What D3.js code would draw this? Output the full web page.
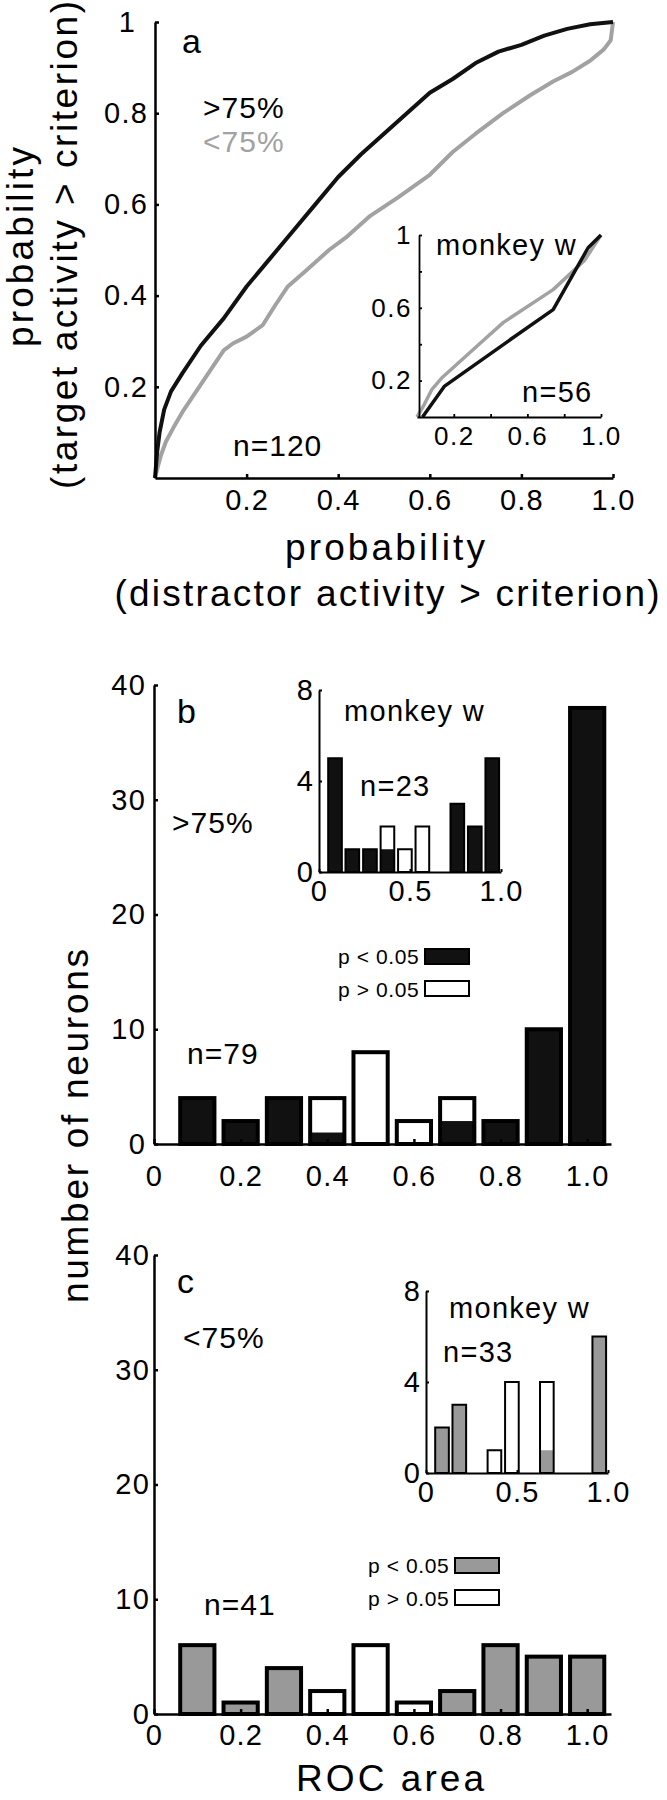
<!DOCTYPE html>
<html>
<head>
<meta charset="utf-8">
<script src="https://cdn.jsdelivr.net/npm/d3@7"></script>
<style>
body { margin: 0; background: #fff; }
</style>
</head>
<body>
<div id="vis"></div>
<script>
// panel a: pooled ROC curves (x = distractor prob, y = target prob)
var rocHiX = [0, 0.005, 0.01, 0.02, 0.035, 0.06, 0.1, 0.15, 0.2, 0.25, 0.3, 0.35, 0.4, 0.45, 0.5, 0.55, 0.6, 0.65, 0.7, 0.75, 0.8, 0.85, 0.9, 0.95, 1.0];
var rocHiY = [0, 0.06, 0.1, 0.15, 0.19, 0.23, 0.29, 0.35, 0.42, 0.48, 0.54, 0.6, 0.66, 0.71, 0.755, 0.8, 0.845, 0.875, 0.91, 0.935, 0.95, 0.97, 0.985, 0.995, 1.0];
var rocLoX = [0, 0.005, 0.013, 0.024, 0.04, 0.06, 0.09, 0.12, 0.15, 0.17, 0.2, 0.235, 0.26, 0.29, 0.33, 0.38, 0.42, 0.47, 0.53, 0.6, 0.65, 0.7, 0.76, 0.82, 0.87, 0.91, 0.95, 0.98, 0.995, 1.0];
var rocLoY = [0, 0.02, 0.05, 0.08, 0.11, 0.145, 0.19, 0.235, 0.28, 0.295, 0.31, 0.335, 0.375, 0.42, 0.455, 0.5, 0.53, 0.575, 0.615, 0.665, 0.715, 0.755, 0.8, 0.84, 0.87, 0.89, 0.915, 0.94, 0.96, 1.0];
// inset of a, monkey w
var wRocHiX = [0.03, 0.15, 0.5, 0.74, 0.93, 1.0];
var wRocHiY = [0, 0.17, 0.42, 0.59, 0.93, 1.0];
var wRocLoX = [0, 0.04, 0.08, 0.14, 0.36, 0.47, 0.74, 0.91, 1.0];
var wRocLoY = [0, 0.07, 0.15, 0.22, 0.42, 0.52, 0.70, 0.86, 1.0];
var rocTicks = [0.2, 0.4, 0.6, 0.8, 1.0];

// panels b, c: ROC area histograms (all neurons)
var bins = [0.1, 0.2, 0.3, 0.4, 0.5, 0.6, 0.7, 0.8, 0.9, 1.0];
var hiTotal = [4, 2, 4, 4, 8, 2, 4, 2, 10, 38];
var hiSig   = [4, 2, 4, 1, 0, 0, 2, 2, 10, 38];
var loTotal = [6, 1, 4, 2, 6, 1, 2, 6, 5, 5];
var loSig   = [6, 1, 4, 0, 0, 0, 2, 6, 5, 5];
var histXTicks = [0, 0.2, 0.4, 0.6, 0.8, 1.0];
var histYTicks = [0, 10, 20, 30, 40];

// insets of b, c: monkey w
var wBins = [0.088, 0.183, 0.28, 0.376, 0.472, 0.568, 0.664, 0.76, 0.856, 0.952];
var wHiTotal = [5, 1, 1, 2, 1, 2, 0, 3, 2, 5];
var wHiSig   = [5, 1, 1, 1, 0, 0, 0, 3, 2, 5];
var wLoTotal = [2, 3, 0, 1, 4, 0, 4, 0, 0, 6];
var wLoSig   = [2, 3, 0, 0, 0, 0, 1, 0, 0, 6];
var insetXTicks = [0, 0.5, 1.0];
var insetYTicks = [0, 4, 8];

var FONT = '"Liberation Sans", Arial, Helvetica, sans-serif';
var GREY = '#a2a2a2';
var BARGREY = '#999999';

var svg = d3.select('#vis').append('svg')
  .attr('width', 667)
  .attr('height', 1800);

function label(txt, x, y, size, o) {
  o = o || {};
  var t = svg.append('text')
    .attr('x', x).attr('y', y)
    .attr('font-family', FONT)
    .attr('font-size', size)
    .attr('fill', o.fill || '#000')
    .attr('text-anchor', o.anchor || 'start')
    .style('letter-spacing', (o.ls || 0) + 'px')
    .text(txt);
  if (o.rotate) t.attr('transform', 'rotate(-90,' + x + ',' + y + ')');
  if (o.len) t.attr('textLength', o.len).attr('lengthAdjust', 'spacing');
  return t;
}

function styleAxis(g, sw, size, ls) {
  g.attr('font-family', FONT).attr('font-size', size);
  g.select('.domain').attr('stroke', '#000').attr('stroke-width', sw);
  g.selectAll('.tick line').attr('stroke', '#000').attr('stroke-width', sw);
  g.selectAll('.tick text').attr('fill', '#000').style('letter-spacing', ls + 'px');
  return g;
}

function fmt1(d) { return d === 0 ? '0' : d3.format('.1f')(d); }

// stacked bars: white outline bar for all, filled part for p < 0.05
function drawBars(x, y, centers, total, sig, w, fill, sw) {
  var data = centers.map(function(c, i) { return {c: c, t: total[i], s: sig[i]}; })
    .filter(function(d) { return d.t > 0; });
  var g = svg.append('g');
  g.selectAll('rect.bg').data(data).enter().append('rect')
    .attr('x', function(d) { return x(d.c - w / 2); })
    .attr('y', function(d) { return y(d.t); })
    .attr('width', function(d) { return x(d.c + w / 2) - x(d.c - w / 2); })
    .attr('height', function(d) { return y(0) - y(d.t); })
    .attr('fill', '#fff');
  g.selectAll('rect.sig').data(data.filter(function(d) { return d.s > 0; })).enter().append('rect')
    .attr('x', function(d) { return x(d.c - w / 2); })
    .attr('y', function(d) { return y(d.s); })
    .attr('width', function(d) { return x(d.c + w / 2) - x(d.c - w / 2); })
    .attr('height', function(d) { return y(0) - y(d.s); })
    .attr('fill', fill);
  g.selectAll('rect.edge').data(data).enter().append('rect')
    .attr('x', function(d) { return x(d.c - w / 2); })
    .attr('y', function(d) { return y(d.t); })
    .attr('width', function(d) { return x(d.c + w / 2) - x(d.c - w / 2); })
    .attr('height', function(d) { return y(0) - y(d.t); })
    .attr('fill', 'none')
    .attr('stroke', '#000')
    .attr('stroke-width', sw);
}

// ---------- panel a ----------
var xa = d3.scaleLinear().domain([0, 1]).range([155, 613]);
var ya = d3.scaleLinear().domain([0, 1]).range([478, 22]);
var lineA = d3.line().x(function(d) { return xa(d[0]); }).y(function(d) { return ya(d[1]); });

svg.append('path').datum(d3.zip(rocLoX, rocLoY))
  .attr('d', lineA).attr('fill', 'none')
  .attr('stroke', GREY).attr('stroke-width', 4).attr('stroke-linejoin', 'round');
svg.append('path').datum(d3.zip(rocHiX, rocHiY))
  .attr('d', lineA).attr('fill', 'none')
  .attr('stroke', '#111').attr('stroke-width', 4).attr('stroke-linejoin', 'round');

styleAxis(svg.append('g').attr('transform', 'translate(0,478)')
  .call(d3.axisBottom(xa).tickValues(rocTicks).tickFormat(d3.format('.1f'))
    .tickSizeInner(-4).tickSizeOuter(0).tickPadding(11)), 2.5, 29, 1.2);
var yaAxis = styleAxis(svg.append('g').attr('transform', 'translate(155,0)')
  .call(d3.axisLeft(ya).tickValues(rocTicks)
    .tickFormat(function(d) { return d === 1 ? '1' : d3.format('.1f')(d); })
    .tickSizeInner(-4).tickSizeOuter(0).tickPadding(7)), 2.5, 29, 1.2);
yaAxis.selectAll('.tick text').filter(function(d) { return d === 1; }).attr('dx', -12);

label('a', 182, 53, 34);
label('>75%', 203, 118, 30, {ls: 1});
label('<75%', 203, 152, 30, {ls: 1, fill: GREY});
label('n=120', 233, 456, 30, {ls: 1});

label('probability', 33, 247, 37, {anchor: 'middle', rotate: true, len: 200});
label('(target activity > criterion)', 77, 245, 37, {anchor: 'middle', rotate: true, len: 488});
label('probability', 385, 560, 37, {anchor: 'middle', len: 200});
label('(distractor activity > criterion)', 387, 606, 37, {anchor: 'middle', len: 545});

// inset of a
var xai = d3.scaleLinear().domain([0, 1]).range([417, 601]);
var yai = d3.scaleLinear().domain([0, 1]).range([417, 235]);
var lineAi = d3.line().x(function(d) { return xai(d[0]); }).y(function(d) { return yai(d[1]); });
svg.append('path').datum(d3.zip(wRocLoX, wRocLoY))
  .attr('d', lineAi).attr('fill', 'none')
  .attr('stroke', GREY).attr('stroke-width', 3.5).attr('stroke-linejoin', 'round');
svg.append('path').datum(d3.zip(wRocHiX, wRocHiY))
  .attr('d', lineAi).attr('fill', 'none')
  .attr('stroke', '#111').attr('stroke-width', 3.5).attr('stroke-linejoin', 'round');

styleAxis(svg.append('g').attr('transform', 'translate(0,417)')
  .call(d3.axisBottom(xai).tickValues(rocTicks)
    .tickFormat(function(d) { return (d === 0.2 || d === 0.6 || d === 1) ? d3.format('.1f')(d) : ''; })
    .tickSizeInner(-3).tickSizeOuter(0).tickPadding(10)), 1.8, 26, 1.5);
styleAxis(svg.append('g').attr('transform', 'translate(419,0)')
  .call(d3.axisLeft(yai).tickValues(rocTicks)
    .tickFormat(function(d) { return d === 1 ? '1' : (d === 0.2 || d === 0.6) ? d3.format('.1f')(d) : ''; })
    .tickSizeInner(-3).tickSizeOuter(0).tickPadding(7)), 1.8, 26, 1.5);

label('monkey w', 436, 255, 29, {ls: 1.3});
label('n=56', 522, 402, 29, {ls: 1.3});

// ---------- panels b and c ----------
function histPanel(o) {
  var x = d3.scaleLinear().domain([0, 1.055]).range([154, 611]);
  var y = d3.scaleLinear().domain([0, 40]).range([o.base, o.base - 459]);
  drawBars(x, y, bins, o.total, o.sig, 0.079, o.fill, 4);

  styleAxis(svg.append('g').attr('transform', 'translate(0,' + o.base + ')')
    .call(d3.axisBottom(x).tickValues(histXTicks).tickFormat(fmt1)
      .tickSizeInner(-5).tickSizeOuter(0).tickPadding(o.xpad)), 2.5, 29, 1.2);
  styleAxis(svg.append('g').attr('transform', 'translate(154,0)')
    .call(d3.axisLeft(y).tickValues(histYTicks).tickFormat(d3.format('d'))
      .tickSizeInner(-4).tickSizeOuter(0).tickPadding(o.ypad)), 2.5, 29, 1.2);

  // inset, monkey w
  var xi = d3.scaleLinear().domain([0, 1]).range([o.ix, o.ix + 182]);
  var yi = d3.scaleLinear().domain([0, 8]).range([o.ibase, o.ibase - 182]);
  drawBars(xi, yi, wBins, o.wTotal, o.wSig, 0.075, o.fill, 2);
  styleAxis(svg.append('g').attr('transform', 'translate(0,' + o.ibase + ')')
    .call(d3.axisBottom(xi).tickValues(insetXTicks).tickFormat(fmt1)
      .tickSizeInner(-3).tickSizeOuter(0).tickPadding(8)), 2, 29, 1.2);
  styleAxis(svg.append('g').attr('transform', 'translate(' + o.ix + ',0)')
    .call(d3.axisLeft(yi).tickValues(insetYTicks).tickFormat(d3.format('d'))
      .tickSizeInner(-3).tickSizeOuter(0).tickPadding(5)), 2, 29, 1.2);

  // legend
  svg.append('rect').attr('x', o.lx + 87).attr('y', o.ly - 15).attr('width', 44).attr('height', 15)
    .attr('fill', o.fill).attr('stroke', '#000').attr('stroke-width', 2);
  svg.append('rect').attr('x', o.lx + 87).attr('y', o.ly + 17).attr('width', 44).attr('height', 15)
    .attr('fill', '#fff').attr('stroke', '#000').attr('stroke-width', 2);
  label('p < 0.05', o.lx, o.ly, 21, {ls: 0.6});
  label('p > 0.05', o.lx, o.ly + 33, 21, {ls: 0.6});
}

histPanel({base: 1144, total: hiTotal, sig: hiSig, fill: '#111', xpad: 21, ypad: 8,
  ix: 319, ibase: 872, wTotal: wHiTotal, wSig: wHiSig, lx: 338, ly: 964});
histPanel({base: 1714, total: loTotal, sig: loSig, fill: BARGREY, xpad: 10, ypad: 4,
  ix: 426, ibase: 1473, wTotal: wLoTotal, wSig: wLoSig, lx: 368, ly: 1573});

label('b', 177, 723, 34);
label('>75%', 172, 833, 30, {ls: 1});
label('n=79', 187, 1064, 30, {ls: 1});
label('monkey w', 344, 721, 29, {ls: 1.3});
label('n=23', 360, 796, 29, {ls: 1.3});

label('c', 177, 1293, 34);
label('<75%', 183, 1348, 30, {ls: 1});
label('n=41', 204, 1615, 30, {ls: 1});
label('monkey w', 449, 1318, 29, {ls: 1.3});
label('n=33', 443, 1362, 29, {ls: 1.3});

label('number of neurons', 88, 1126, 37, {anchor: 'middle', rotate: true, len: 354});
label('ROC area', 390, 1791, 37, {anchor: 'middle', len: 188});
</script>
</body>
</html>
